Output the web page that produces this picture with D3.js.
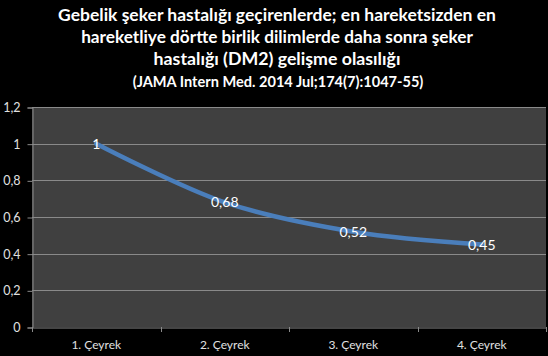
<!DOCTYPE html>
<html><head><meta charset="utf-8">
<script src="https://cdn.jsdelivr.net/npm/d3@7"></script>
<style>html,body{margin:0;padding:0;background:#000;}svg{display:block;}</style>
</head><body>
<svg id="c" width="548" height="356"></svg>
<script>
const titleLines = [
  "Gebelik şeker hastalığı geçirenlerde; en hareketsizden en",
  "hareketliye dörtte birlik dilimlerde daha sonra şeker",
  "hastalığı (DM2) gelişme olasılığı"
];
const subtitle = "(JAMA Intern Med. 2014 Jul;174(7):1047-55)";
const categories = ["1. Çeyrek", "2. Çeyrek", "3. Çeyrek", "4. Çeyrek"];
const values = [1, 0.68, 0.52, 0.45];
const valueLabels = ["1", "0,68", "0,52", "0,45"];
const yTicks = [0, 0.2, 0.4, 0.6, 0.8, 1, 1.2];
const yTickLabels = ["0", "0,2", "0,4", "0,6", "0,8", "1", "1,2"];

(function () {
const svg = d3.select("#c");
const W = 548, H = 356;
svg.append("rect").attr("width", W).attr("height", H).attr("fill", "#000");

const pL = 32, pR = 546, pT = 107, pB = 327;
const x = d3.scaleBand().domain(categories).range([pL, pR]);
const y = d3.scaleLinear().domain([0, 1.2]).range([pB, pT]);

svg.append("rect").attr("x", pL).attr("y", pT).attr("width", pR - pL).attr("height", pB - pT).attr("fill", "#404040");

svg.append("g").selectAll("line").data(yTicks.filter(d => d > 0)).join("line")
  .attr("x1", pL).attr("x2", pR)
  .attr("y1", d => Math.round(y(d)) + 0.5).attr("y2", d => Math.round(y(d)) + 0.5)
  .attr("stroke", "#8a8a8a").attr("stroke-width", 1);

const axisColor = "#8a8a8a";
const labelColor = "#e0e0e0";
const fontFam = "Lato, 'Open Sans', sans-serif";

const yAxis = d3.axisLeft(y).tickValues(yTicks).tickFormat((d, i) => yTickLabels[i]).tickSize(5).tickPadding(7);
const gy = svg.append("g").attr("transform", `translate(${pL + 0.5},0.5)`).call(yAxis);
gy.select(".domain").attr("stroke", axisColor);
gy.selectAll(".tick line").attr("stroke", axisColor);
gy.selectAll(".tick text").attr("fill", labelColor).attr("font-family", fontFam).attr("font-size", 12.5);

const xAxis = d3.axisBottom(x).tickSize(0).tickPadding(13);
const gx = svg.append("g").attr("transform", `translate(0,${pB + 0.5})`).call(xAxis);
gx.select(".domain").attr("stroke", axisColor);
gx.selectAll(".tick text").attr("fill", labelColor).attr("font-family", fontFam).attr("font-size", 12);
const bounds = categories.map(c => x(c)).concat([x(categories[categories.length - 1]) + x.bandwidth()]);
svg.append("g").selectAll("line").data(bounds).join("line")
  .attr("x1", d => Math.round(d) + 0.5).attr("x2", d => Math.round(d) + 0.5)
  .attr("y1", pB).attr("y2", pB + 5)
  .attr("stroke", axisColor);

const cx = c => x(c) + x.bandwidth() / 2;
const line = d3.line().x((d, i) => cx(categories[i])).y(d => y(d)).curve(d3.curveCatmullRom.alpha(0.5));
svg.append("path").datum(values).attr("d", line)
  .attr("fill", "none").attr("stroke", "#4a7ebb").attr("stroke-width", 4.5).attr("stroke-linecap", "round");

svg.append("g").selectAll("text").data(values).join("text")
  .attr("x", (d, i) => cx(categories[i])).attr("y", d => y(d))
  .attr("dy", "0.36em").attr("text-anchor", "middle")
  .attr("fill", "#fff").attr("font-family", fontFam).attr("font-size", 14)
  .text((d, i) => valueLabels[i]);

function fitText(sel, target) {
  const w = sel.node().getComputedTextLength();
  const fs = parseFloat(sel.attr("font-size"));
  sel.attr("font-size", fs * target / w);
}
const titleY = [21, 43, 65, 87];
const titleW = [438, 392, 247];
titleLines.forEach((t, i) => {
  const tx = svg.append("text").attr("x", W / 2 + 3).attr("y", titleY[i]).attr("text-anchor", "middle")
    .attr("fill", "#fff").attr("font-family", fontFam).attr("font-weight", "bold").attr("font-size", 16)
    .text(t);
  fitText(tx, titleW[i]);
});
const st = svg.append("text").attr("x", W / 2 + 4).attr("y", titleY[3]).attr("text-anchor", "middle")
  .attr("fill", "#fff").attr("font-family", fontFam).attr("font-weight", "bold").attr("font-size", 13)
  .text(subtitle);
fitText(st, 291);
})();
</script>
</body></html>
